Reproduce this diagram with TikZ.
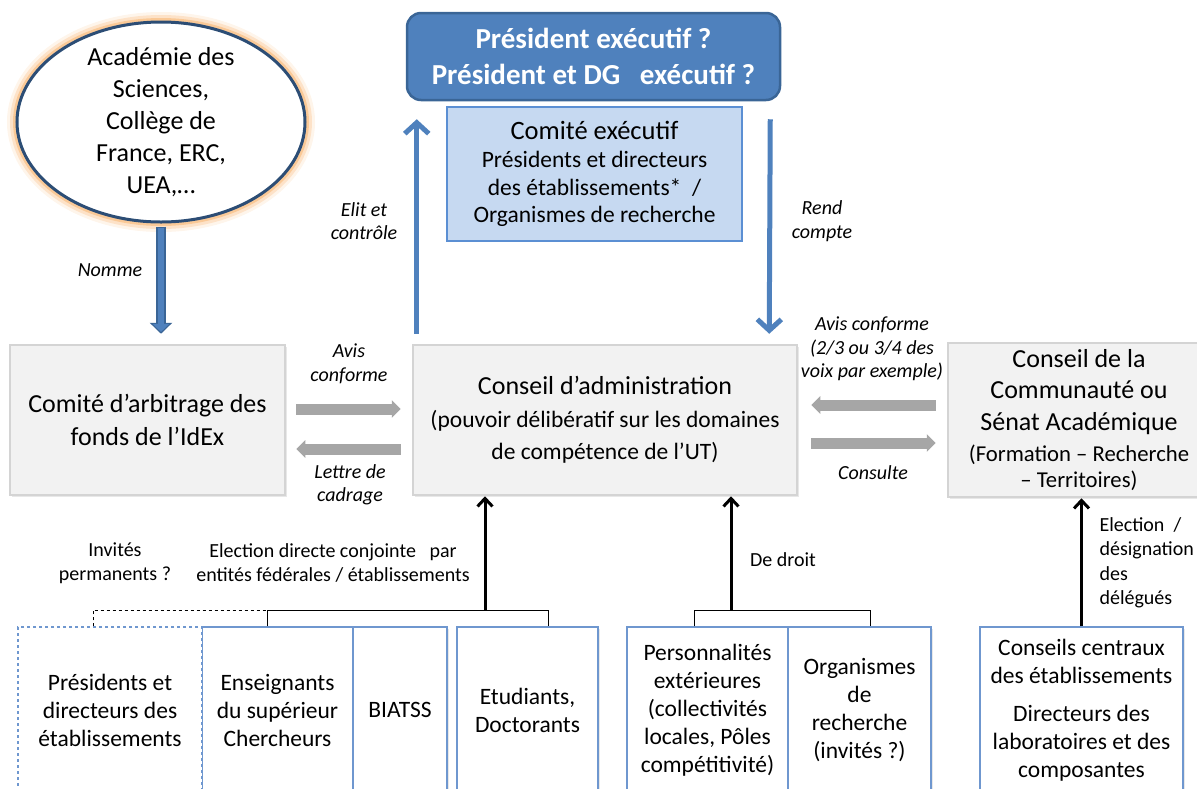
\documentclass[tikz,border=0pt]{standalone}
\usepackage{fontspec}
\setmainfont{Carlito}
\usetikzlibrary{shapes.geometric,arrows.meta,calc,shadows}
\definecolor{boxfill}{HTML}{F2F2F2}
\definecolor{boxline}{HTML}{D4D4D4}
\definecolor{ellline}{HTML}{2C4D75}
\definecolor{glow}{HTML}{F9B977}
\definecolor{presfill}{HTML}{4F81BD}
\definecolor{presline}{HTML}{3A6596}
\definecolor{comfill}{HTML}{C6D9F1}
\definecolor{comline}{HTML}{5B8FD3}
\definecolor{blueline}{HTML}{4F81BD}
\definecolor{greyarrow}{HTML}{A6A6A6}
\definecolor{botline}{HTML}{6F97CF}
\begin{document}
\begin{tikzpicture}[x=1pt,y=-1pt,
  softshadow/.style={drop shadow={opacity=0.18, shadow xshift=2pt, shadow yshift=-2pt}},
  greybox/.style={draw=boxline, fill=boxfill, line width=2.5pt, align=center,
    softshadow, font=\fontsize{23.5}{32.5}\selectfont},
  botbox/.style={draw=botline, fill=white, line width=1.3pt, align=center,
    softshadow, minimum height=166pt, inner sep=0pt, font=\fontsize{23.5}{28}\selectfont},
  lab/.style={align=center, font=\fontsize{20}{23.5}\selectfont\itshape},
  note/.style={align=center, font=\fontsize{20}{24.5}\selectfont},
  bluearrow/.style={draw=blueline, line width=5pt, -{Straight Barb[length=11pt,width=24pt]}},
  greyarr/.style={draw=greyarrow, line width=11pt, -{Triangle[length=9pt,width=17pt]}},
  blackarr/.style={draw=black, line width=3pt, -{Straight Barb[length=8pt,width=15pt]}},
  brace/.style={draw=black, line width=1pt}
]
\useasboundingbox (0,0) rectangle (1197,788);

% ellipse
\node[ellipse, draw=ellline, line width=3pt, fill=white,
  minimum width=288pt, minimum height=200pt, inner sep=-18pt, align=center,
  font=\fontsize{26}{32}\selectfont,
  preaction={draw=glow, line width=20pt, opacity=0.15},
  preaction={draw=glow, line width=14pt, opacity=0.3},
  preaction={draw=glow, line width=8pt, opacity=0.6}] (ell) at (161,122)
  {Académie des\\Sciences,\\Collège de\\France, ERC,\\UEA,…};

% president
\node[draw=presline, fill=presfill, line width=2.5pt, rounded corners=14pt,
  minimum width=373pt, minimum height=87pt, align=center, text=white,
  font=\fontsize{29}{36}\selectfont\bfseries] (pres) at (593.5,56.5)
  {Président exécutif ?\\Président et DG\ \ \ exécutif ?};

% comite executif
\node[draw=comline, fill=comfill, line width=2.5pt, minimum width=295pt,
  minimum height=134pt, align=center, font=\fontsize{23.5}{27.5}\selectfont] (comex) at (594.5,174)
  {{\fontsize{26.5}{30}\selectfont Comité exécutif}\\[1pt]Présidents et directeurs\\des établissements*\ \ /\\Organismes de recherche};

% grey boxes
\node[greybox, minimum width=275pt, minimum height=150pt, font=\fontsize{26}{33}\selectfont] (arb) at (147.5,420)
  {Comité d’arbitrage des\\fonds de l’IdEx};
\node[greybox, minimum width=384pt, minimum height=150pt] (ca) at (605,420)
  {{\fontsize{26}{32.5}\selectfont Conseil d’administration}\\(pouvoir délibératif sur les domaines\\de compétence de l’UT)};
\node[greybox, minimum width=262pt, minimum height=154pt, font=\fontsize{26}{31.5}\selectfont] (sen) at (1079,420)
  {Conseil de la\\Communauté ou\\Sénat Académique\\[0pt]{\fontsize{22.7}{28}\selectfont(Formation – Recherche}\\[-6pt]{\fontsize{22.7}{28}\selectfont– Territoires)}};

% bottom boxes
\node[botbox, dashed, minimum width=184pt] (b1) at (110,710) {Présidents et\\directeurs des\\établissements};
\node[botbox, minimum width=150pt] (b2) at (277.5,710) {Enseignants\\du supérieur\\Chercheurs};
\node[botbox, minimum width=94pt] (b3) at (400,710) {BIATSS};
\node[botbox, minimum width=141pt] (b4) at (527.5,710) {Etudiants,\\Doctorants};
\node[botbox, minimum width=161pt] (b5) at (707.5,710) {Personnalités\\extérieures\\(collectivités\\locales, Pôles\\compétitivité)};
\node[botbox, minimum width=143pt] (b6) at (859.5,710) {Organismes\\de\\recherche\\(invités ?)};
\node[botbox, minimum width=203pt] (b7) at (1081.5,710) {Conseils centraux\\des établissements\\[10pt]Directeurs des\\laboratoires et des\\composantes};

% Nomme arrow
\draw[draw=presline, line width=10pt, shorten <=3pt, shorten >=10pt,
  -{Triangle[length=11pt,width=22pt]}] (ell.south) -- (ell.south |- arb.north);
\draw[draw=blueline, line width=6pt, shorten <=4.5pt, shorten >=11.8pt,
  -{Triangle[length=8pt,width=16pt]}] (ell.south) -- (ell.south |- arb.north);
\node[lab] (lnomme) at (110,270) {Nomme};

% blue arrows
\coordinate (upS) at ($(ca.north west)+(5,-10)$);
\coordinate (upE) at ($(pres.south west)+(11,18)$);
\draw[bluearrow] (upS) -- (upE);
\coordinate (dnS) at ($(pres.south east)+(-11,18)$);
\coordinate (dnE) at ($(ca.north east)+(-29,-10)$);
\draw[bluearrow] (dnS) -- (dnE);
\node[lab] (lelit) at (364,221) {Elit et\\contrôle};
\node[lab] (lrend) at (822,221) {Rend\\compte};

% grey arrows left
\draw[greyarr] ($(arb.east)+(10,-11)$) -- ($(ca.west)+(-11,-11)$);
\draw[greyarr] ($(ca.west)+(-11,29)$) -- ($(arb.east)+(10,29)$);
\node[lab] (lavis1) at (349,364) {Avis\\conforme};
\node[lab] (llettre) at (350,485) {Lettre de\\cadrage};

% grey arrows right
\draw[greyarr] ($(sen.west)+(-11,-15)$) -- ($(ca.east)+(13,-15)$);
\draw[greyarr] ($(ca.east)+(13,23)$) -- ($(sen.west)+(-11,23)$);
\node[lab] (lavis2) at (872,349) {Avis conforme\\(2/3 ou 3/4 des\\voix par exemple)};
\node[lab] (lcons) at (873,473) {Consulte};

% brackets bottom left
\coordinate (j0) at (93,610);
\coordinate (j1) at (267,610);
\coordinate (j2) at (548,610);
\coordinate (j3) at (485,610);
\draw[brace, dashed] (j0 |- b1.north) -- (j0) -- (j1);
\draw[brace] (j1 |- b2.north) -- (j1) -- (j2) -- (j2 |- b4.north);
\draw[blackarr] (j3) -- (j3 |- ca.south);
\node[note] (linv) at (115,563) {Invités\\permanents ?};
\node[note] (lelec) at (333,563) {Election directe conjointe\ \ \ par\\entités fédérales / établissements};

% brackets bottom middle
\coordinate (k1) at (694,610);
\coordinate (k2) at (870,610);
\coordinate (k3) at (731,610);
\draw[brace] (k1 |- b5.north) -- (k1) -- (k2) -- (k2 |- b6.north);
\draw[blackarr] (k3) -- (k3 |- ca.south);
\node[note] (ldroit) at (783,560) {De droit};

% right arrow
\draw[blackarr] (b7.north) -- (b7.north |- sen.south);
\node[note, align=left, anchor=west] (ldel) at (1096,563) {Election\ \ /\\désignation\\des\\délégués};
\end{tikzpicture}
\end{document}
